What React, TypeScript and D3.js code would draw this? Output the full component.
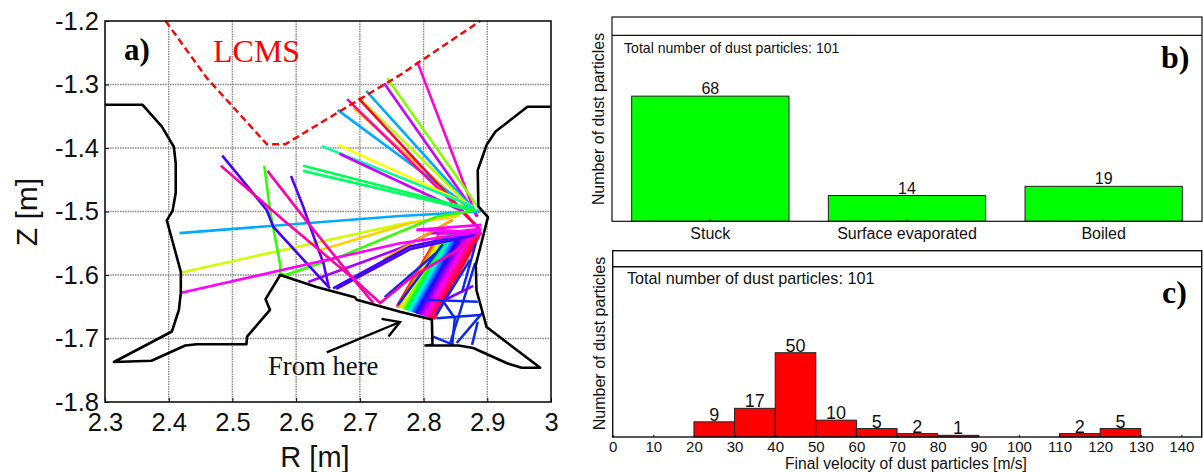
import React, { useEffect, useRef } from "react";
import * as d3 from "d3";

// panel a) values, R and Z in metres
type Pt = [number, number];
const wallPoints: Pt[] = [
  [2.3, -1.332], [2.359, -1.332], [2.389, -1.366], [2.408, -1.398], [2.411, -1.424], [2.411, -1.471],
  [2.406, -1.499], [2.397, -1.514], [2.419, -1.595], [2.419, -1.628], [2.416, -1.655], [2.405, -1.689],
  [2.314, -1.737], [2.373, -1.735], [2.426, -1.711], [2.444, -1.709], [2.522, -1.709], [2.523, -1.697],
  [2.559, -1.655], [2.552, -1.638], [2.575, -1.6], [2.632, -1.619], [2.692, -1.635], [2.695, -1.639],
  [2.763, -1.658], [2.813, -1.67], [2.814, -1.71], [2.803, -1.711], [2.855, -1.711], [2.878, -1.715],
  [2.931, -1.739], [2.954, -1.746], [2.983, -1.746], [2.899, -1.682], [2.883, -1.624], [2.882, -1.584],
  [2.901, -1.509], [2.886, -1.492], [2.885, -1.435], [2.899, -1.395], [2.913, -1.374], [2.963, -1.335], [3, -1.335],
];
const lcmsPoints: Pt[] = [
  [2.395, -1.2], [2.46, -1.29], [2.554, -1.394], [2.583, -1.394], [2.763, -1.285], [2.889, -1.2],
];
const arrowShaft: Pt[] = [[2.648, -1.722], [2.763, -1.674]];
const arrowHead: Pt[] = [[2.734, -1.669], [2.763, -1.674], [2.745, -1.697]];

// dense fan of trajectories, left to right
const wedgeFootR = [2.758, 2.76, 2.762, 2.764, 2.766, 2.768, 2.77, 2.772, 2.774, 2.776, 2.778, 2.78, 2.782, 2.784, 2.786, 2.788, 2.79, 2.792, 2.794, 2.796, 2.798, 2.8, 2.802, 2.804, 2.806, 2.808, 2.81, 2.812, 2.814, 2.816];
const wedgeFootZ = [-1.65, -1.651, -1.651, -1.652, -1.653, -1.653, -1.654, -1.655, -1.655, -1.656, -1.657, -1.657, -1.658, -1.659, -1.659, -1.66, -1.661, -1.661, -1.662, -1.663, -1.663, -1.664, -1.665, -1.665, -1.666, -1.667, -1.667, -1.668, -1.669, -1.67];
const wedgeTopR = [2.826, 2.828, 2.83, 2.832, 2.834, 2.837, 2.839, 2.841, 2.843, 2.846, 2.848, 2.85, 2.852, 2.854, 2.857, 2.859, 2.861, 2.863, 2.866, 2.868, 2.87, 2.872, 2.875, 2.877, 2.879, 2.881, 2.883, 2.886, 2.888, 2.89];
const wedgeColors = ["#ff2000", "#ff6000", "#ffa000", "#ffe000", "#ddff00", "#99ff00", "#55ff00", "#11ff00", "#00ff44", "#00ff88", "#00ffcc", "#00eeff", "#00aaff", "#0088ff", "#0055ff", "#0022ff", "#2200ff", "#4400ff", "#6600ff", "#8800ff", "#aa00ff", "#cc00ff", "#ee00ff", "#ff00ee", "#ff00cc", "#ff00aa", "#ff0088", "#ff0066", "#ff0044", "#ff0022"];
const wedgeTopZ = -1.533;

const blueTracks: Pt[][] = [
  [[2.881, -1.581], [2.842, -1.707]],
  [[2.892, -1.66], [2.852, -1.707]],
  [[2.885, -1.674], [2.876, -1.71]],
  [[2.873, -1.576], [2.834, -1.639], [2.82, -1.663]],
  [[2.829, -1.639], [2.849, -1.668], [2.845, -1.71]],
  [[2.802, -1.639], [2.885, -1.642]],
  [[2.82, -1.668], [2.889, -1.663]],
  [[2.815, -1.697], [2.847, -1.71]],
  [[2.882, -1.55], [2.86, -1.628]],
  [[2.739, -1.635], [2.821, -1.564]],
  [[2.76, -1.647], [2.83, -1.552]],
];
const tracks: { color: string; pts: Pt[] }[] = [
  { color: "#ff00dd", pts: [[2.79, -1.264], [2.883, -1.508]] },
  { color: "#80ff00", pts: [[2.743, -1.29], [2.889, -1.498]] },
  { color: "#cc00ff", pts: [[2.738, -1.298], [2.885, -1.508]] },
  { color: "#00aaff", pts: [[2.71, -1.31], [2.883, -1.502]] },
  { color: "#b0ff00", pts: [[2.699, -1.321], [2.873, -1.492]] },
  { color: "#ffc000", pts: [[2.69, -1.337], [2.873, -1.498]] },
  { color: "#00aaff", pts: [[2.665, -1.34], [2.878, -1.498]] },
  { color: "#ff00aa", pts: [[2.68, -1.323], [2.889, -1.529]] },
  { color: "#ff0040", pts: [[2.698, -1.322], [2.889, -1.529]] },
  { color: "#ffff00", pts: [[2.666, -1.395], [2.878, -1.492]] },
  { color: "#00ff99", pts: [[2.64, -1.397], [2.878, -1.492]] },
  { color: "#cc00ff", pts: [[2.668, -1.409], [2.862, -1.5]] },
  { color: "#00ff55", pts: [[2.611, -1.428], [2.883, -1.498]] },
  { color: "#00ff66", pts: [[2.611, -1.436], [2.883, -1.5]] },
  { color: "#00aaff", pts: [[2.417, -1.534], [2.763, -1.507], [2.889, -1.5]] },
  { color: "#ccff00", pts: [[2.42, -1.596], [2.763, -1.52], [2.857, -1.506]] },
  { color: "#ffd000", pts: [[2.637, -1.561], [2.779, -1.518], [2.852, -1.508]] },
  { color: "#30ff00", pts: [[2.55, -1.428], [2.559, -1.498], [2.575, -1.584], [2.575, -1.597], [2.583, -1.6], [2.669, -1.571], [2.821, -1.508], [2.882, -1.498]] },
  { color: "#aa00ff", pts: [[2.619, -1.611], [2.763, -1.558], [2.81, -1.534], [2.889, -1.534]] },
  { color: "#ffa000", pts: [[2.737, -1.576], [2.789, -1.545], [2.846, -1.513]] },
  { color: "#4400ff", pts: [[2.484, -1.412], [2.507, -1.44], [2.554, -1.498], [2.564, -1.524], [2.617, -1.582], [2.653, -1.621]] },
  { color: "#5500ff", pts: [[2.592, -1.444], [2.611, -1.492], [2.622, -1.524], [2.643, -1.582], [2.651, -1.618]] },
  { color: "#4400ff", pts: [[2.658, -1.621], [2.779, -1.555], [2.885, -1.532]] },
  { color: "#4400ff", pts: [[2.663, -1.622], [2.78, -1.559], [2.885, -1.536]] },
  { color: "#ff00ff", pts: [[2.42, -1.628], [2.763, -1.55], [2.889, -1.532]] },
  { color: "#ff00ff", pts: [[2.789, -1.529], [2.891, -1.521]] },
  { color: "#ff00ff", pts: [[2.789, -1.529], [2.891, -1.532]] },
  { color: "#ff00ff", pts: [[2.825, -1.535], [2.891, -1.527]] },
  { color: "#ff00aa", pts: [[2.482, -1.428], [2.577, -1.511], [2.689, -1.605], [2.732, -1.644], [2.779, -1.605], [2.849, -1.563], [2.889, -1.534]] },
  { color: "#ff00aa", pts: [[2.555, -1.436], [2.617, -1.516], [2.687, -1.603], [2.721, -1.644]] },
  { color: "#8000ff", pts: [[2.834, -1.639], [2.878, -1.617]] },
];
const rTicks = [2.3, 2.4, 2.5, 2.6, 2.7, 2.8, 2.9, 3];
const zTicks = [-1.2, -1.3, -1.4, -1.5, -1.6, -1.7, -1.8];

// panel b)
const fates = ["Stuck", "Surface evaporated", "Boiled"];
const fateCounts = [68, 14, 19];

// panel c)
const binStarts = [20, 30, 40, 50, 60, 70, 80, 110, 120];
const binCounts = [9, 17, 50, 10, 5, 2, 1, 2, 5];
const velocityTicks = [0, 10, 20, 30, 40, 50, 60, 70, 80, 90, 100, 110, 120, 130, 140];
const totalParticles = 101;

const ARIAL = "'Liberation Sans', Arial, sans-serif";
const TIMES = "'Liberation Serif', 'Times New Roman', serif";

const rScale = d3.scaleLinear().domain([2.3, 3]).range([105, 551]);
const zScale = d3.scaleLinear().domain([-1.8, -1.2]).range([402, 21]);
const line = d3.line<Pt>().x((d) => rScale(d[0])).y((d) => zScale(d[1]));

const fateX = d3.scaleBand().domain(fates).range([612, 1202]).paddingInner(0.2).paddingOuter(0.1);
const fateY = d3.scaleLinear().domain([0, 111]).range([221.3, 17]);
const velX = d3.scaleLinear().domain([0, 145]).range([612.7, 1201.7]);
const velY = d3.scaleLinear().domain([0, 110.5]).range([437, 250.7]);

export default function App() {
  const ref = useRef<SVGSVGElement>(null);

  useEffect(() => {
    const svg = d3.select(ref.current);
    svg.selectAll("g.axis").remove();

    const styleAxis = (g: any, size: number) => {
      g.attr("class", "axis").attr("font-family", ARIAL).attr("font-size", size);
      g.selectAll(".domain").remove();
      g.selectAll("text").attr("fill", "#111");
    };

    svg.append("g").attr("transform", "translate(0,402)")
      .call(d3.axisBottom(rScale).tickValues(rTicks).tickFormat((d) => String(d)).tickSize(-4).tickPadding(11))
      .call(styleAxis, 25.5);
    svg.append("g").attr("transform", "translate(105,0)")
      .call(d3.axisLeft(zScale).tickValues(zTicks).tickFormat((d) => String(d)).tickSize(-4).tickPadding(6))
      .call(styleAxis, 25.5);

    svg.append("g").attr("transform", "translate(0,221.3)")
      .call(d3.axisBottom(fateX).tickSize(-2).tickPadding(6))
      .call(styleAxis, 16);
    svg.append("g").attr("transform", "translate(0,437)")
      .call(d3.axisBottom(velX).tickValues(velocityTicks).tickFormat((d) => String(d)).tickSize(-2).tickPadding(4))
      .call(styleAxis, 15);
  }, []);

  const binW = velX(10) - velX(0);

  return (
    <svg ref={ref} width={1203} height={472} style={{ position: "absolute", left: 0, top: 0, background: "#fff" }}>
      {/* panel a */}
      {rTicks.slice(1, -1).map((r) => (
        <line key={r} x1={rScale(r)} x2={rScale(r)} y1={21} y2={402} stroke="#888" strokeWidth={1.4} strokeDasharray="1.5 1" />
      ))}
      {zTicks.slice(1, -1).map((z) => (
        <line key={z} x1={105} x2={551} y1={zScale(z)} y2={zScale(z)} stroke="#888" strokeWidth={1.4} strokeDasharray="1.5 1" />
      ))}
      {wedgeFootR.map((r, i) => (
        <path key={i} d={line([[r, wedgeFootZ[i]], [wedgeTopR[i], wedgeTopZ]]) || ""} fill="none" stroke={wedgeColors[i]} strokeWidth={2.8} />
      ))}
      {blueTracks.map((pts, i) => (
        <path key={i} d={line(pts) || ""} fill="none" stroke="#0a28f0" strokeWidth={2.5} />
      ))}
      {tracks.map((t, i) => (
        <path key={i} d={line(t.pts) || ""} fill="none" stroke={t.color} strokeWidth={2.6} />
      ))}
      <path d={line(wallPoints) || ""} fill="none" stroke="#000" strokeWidth={2.6} strokeLinejoin="round" />
      <path d={line(lcmsPoints) || ""} fill="none" stroke="#ff0000" strokeWidth={2.4} strokeDasharray="7 4" />
      <path d={line(arrowShaft) || ""} fill="none" stroke="#000" strokeWidth={2.4} />
      <path d={line(arrowHead) || ""} fill="none" stroke="#000" strokeWidth={2.4} />
      <rect x={105} y={21} width={446} height={381} fill="none" stroke="#111" strokeWidth={1.6} />
      <text x={124} y={60} fontFamily={TIMES} fontWeight="bold" fontSize={31}>a)</text>
      <text x={213} y={62} fontFamily={TIMES} fontSize={32} fill="#ff0000">LCMS</text>
      <text x={268} y={375} fontFamily={TIMES} fontSize={26.7} fill="#111">From here</text>
      <text x={315} y={467} textAnchor="middle" fontFamily={ARIAL} fontSize={29} fill="#111">R [m]</text>
      <text transform="translate(37,212) rotate(-90)" textAnchor="middle" fontFamily={ARIAL} fontSize={30} fill="#111">Z [m]</text>

      {/* panel b */}
      {fates.map((f, i) => (
        <g key={f}>
          <rect x={fateX(f)} y={fateY(fateCounts[i])} width={fateX.bandwidth()} height={fateY(0) - fateY(fateCounts[i])} fill="#00ff00" stroke="#222" strokeWidth={1} />
          <text x={(fateX(f) || 0) + fateX.bandwidth() / 2} y={fateY(fateCounts[i]) - 2} textAnchor="middle" fontFamily={ARIAL} fontSize={16} fill="#111">{fateCounts[i]}</text>
        </g>
      ))}
      <rect x={612} y={17} width={590} height={204.3} fill="none" stroke="#111" strokeWidth={1.2} />
      <line x1={612} x2={1202} y1={fateY(totalParticles)} y2={fateY(totalParticles)} stroke="#111" strokeWidth={1.2} />
      <text x={624} y={53} fontFamily={ARIAL} fontSize={14.1} fill="#111">Total number of dust particles: {totalParticles}</text>
      <text x={1161} y={68} fontFamily={TIMES} fontWeight="bold" fontSize={32}>b)</text>
      <text transform="translate(604,119) rotate(-90)" textAnchor="middle" fontFamily={ARIAL} fontSize={15.9} fill="#111">Number of dust particles</text>

      {/* panel c */}
      {binStarts.map((s, i) => (
        <g key={s}>
          <rect x={velX(s)} y={velY(binCounts[i])} width={binW} height={velY(0) - velY(binCounts[i])} fill="#ff0000" stroke="#222" strokeWidth={1} />
          <text x={velX(s) + binW / 2} y={velY(binCounts[i]) - 1} textAnchor="middle" fontFamily={ARIAL} fontSize={18} fill="#111">{binCounts[i]}</text>
        </g>
      ))}
      <rect x={612.7} y={250.7} width={589} height={186.3} fill="none" stroke="#111" strokeWidth={1.4} />
      <line x1={612.7} x2={1201.7} y1={velY(totalParticles)} y2={velY(totalParticles)} stroke="#111" strokeWidth={1.6} />
      <text x={627} y={284} fontFamily={ARIAL} fontSize={16.2} fill="#111">Total number of dust particles: {totalParticles}</text>
      <text x={1162} y={303} fontFamily={TIMES} fontWeight="bold" fontSize={32}>c)</text>
      <text transform="translate(605,343.5) rotate(-90)" textAnchor="middle" fontFamily={ARIAL} fontSize={16} fill="#111">Number of dust particles</text>
      <text x={906} y={469} textAnchor="middle" fontFamily={ARIAL} fontSize={15.6} fill="#111">Final velocity of dust particles [m/s]</text>
    </svg>
  );
}
